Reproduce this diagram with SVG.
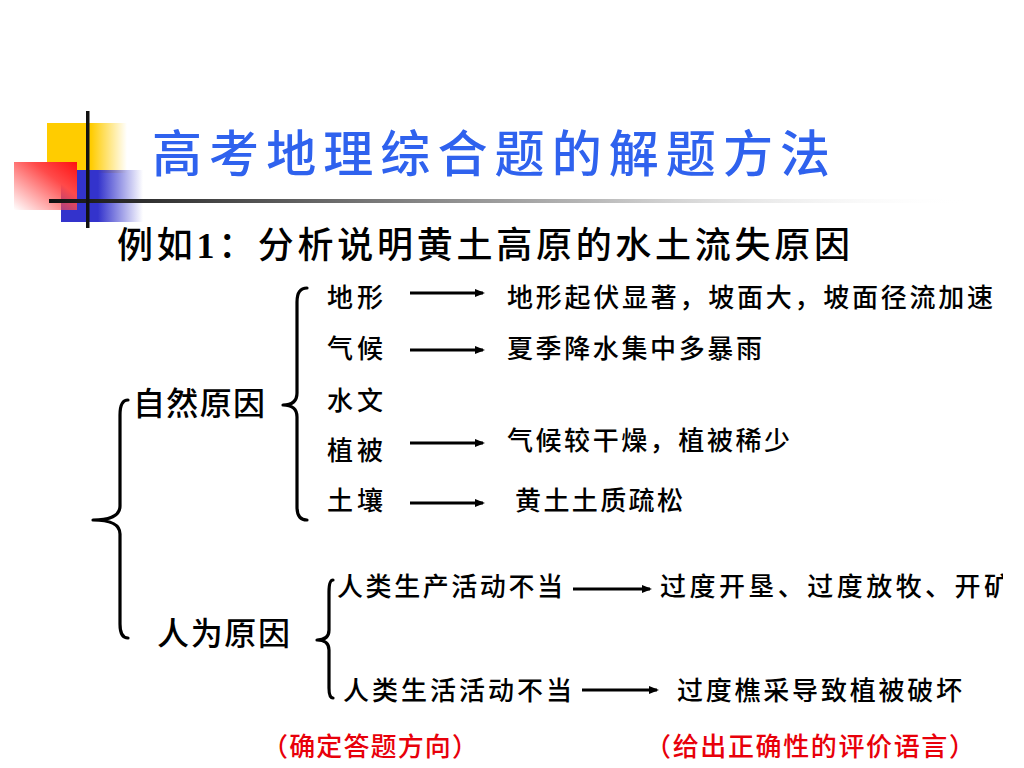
<svg xmlns="http://www.w3.org/2000/svg" width="1024" height="768" viewBox="0 0 1024 768">
<style>
.t{font-family:"Liberation Sans","Noto Sans CJK SC",sans-serif;fill:#000;font-weight:500}
.b{font-size:26px}
.m{font-size:32px}
.r{font-size:26px;fill:#e8000a}
.br{fill:none;stroke:#000;stroke-width:3.2;stroke-linecap:round;stroke-linejoin:round}
.ar{stroke:#000;stroke-width:3;marker-end:url(#ah)}
</style>
<defs>
<marker id="ah" markerWidth="10" markerHeight="8" refX="8" refY="4" orient="auto" markerUnits="userSpaceOnUse">
<path d="M0,0 L10,4 L0,8 Z" fill="#000"/>
</marker>
<linearGradient id="gy" x1="0" y1="0" x2="1" y2="0">
<stop offset="0" stop-color="#ffcc00"/><stop offset="0.55" stop-color="#ffcc00"/><stop offset="1" stop-color="#ffcc00" stop-opacity="0"/>
</linearGradient>
<linearGradient id="gb" x1="0" y1="0" x2="1" y2="0">
<stop offset="0" stop-color="#3333cc"/><stop offset="0.45" stop-color="#3333cc"/><stop offset="1" stop-color="#3333cc" stop-opacity="0"/>
</linearGradient>
<linearGradient id="gr" x1="1" y1="0" x2="0" y2="1">
<stop offset="0" stop-color="#ff1010"/><stop offset="0.35" stop-color="#ff4a4a"/><stop offset="1" stop-color="#ff4a4a" stop-opacity="0"/>
</linearGradient>
<linearGradient id="gl" x1="0" y1="0" x2="1" y2="0">
<stop offset="0" stop-color="#111"/><stop offset="0.35" stop-color="#777"/><stop offset="0.6" stop-color="#bbb"/><stop offset="1" stop-color="#fff" stop-opacity="0"/>
</linearGradient>
<clipPath id="clipR"><rect x="0" y="0" width="1003" height="768"/></clipPath>
</defs>
<rect width="1024" height="768" fill="#fff"/>
<g id="decoration">
<rect x="47" y="123" width="80" height="50" fill="url(#gy)"/>
<rect x="61" y="170" width="82" height="52" fill="url(#gb)"/>
<rect x="14" y="162" width="63" height="48" fill="url(#gr)"/>
<rect x="49" y="199" width="920" height="4" fill="url(#gl)"/>
<rect x="86" y="111" width="3.5" height="117" fill="#111"/>
</g>
<g id="title">
<text x="152" y="172" font-family="Noto Sans CJK SC, sans-serif" font-size="50" font-weight="500" fill="#2f62ee" textLength="678" lengthAdjust="spacing">高考地理综合题的解题方法</text>
</g>
<g id="subtitle">
<text class="t" x="117" y="258" font-size="36" textLength="733" lengthAdjust="spacing">例如<tspan font-family="Liberation Serif, serif" font-weight="bold">1</tspan>：分析说明黄土高原的水土流失原因</text>
</g>
<g id="node-natural"><text class="t m" x="133" y="415" textLength="132" lengthAdjust="spacing">自然原因</text></g>
<g id="node-human"><text class="t m" x="157" y="645" textLength="133" lengthAdjust="spacing">人为原因</text></g>
<g id="node-terrain"><text class="t b" x="327" y="307" textLength="56" lengthAdjust="spacing">地形</text></g>
<g id="node-climate"><text class="t b" x="327" y="358" textLength="56" lengthAdjust="spacing">气候</text></g>
<g id="node-hydro"><text class="t b" x="327" y="410" textLength="56" lengthAdjust="spacing">水文</text></g>
<g id="node-veg"><text class="t b" x="327" y="460" textLength="56" lengthAdjust="spacing">植被</text></g>
<g id="node-soil"><text class="t b" x="327" y="510" textLength="56" lengthAdjust="spacing">土壤</text></g>
<g id="node-terrain-r"><text class="t b" x="507" y="307" textLength="486" lengthAdjust="spacing">地形起伏显著，坡面大，坡面径流加速</text></g>
<g id="node-climate-r"><text class="t b" x="507" y="358" textLength="255" lengthAdjust="spacing">夏季降水集中多暴雨</text></g>
<g id="node-veg-r"><text class="t b" x="507" y="450" textLength="283" lengthAdjust="spacing">气候较干燥，植被稀少</text></g>
<g id="node-soil-r"><text class="t b" x="515" y="510" textLength="168" lengthAdjust="spacing">黄土土质疏松</text></g>
<g id="node-prod"><text class="t b" x="337" y="596" textLength="226" lengthAdjust="spacing">人类生产活动不当</text></g>
<g id="node-prod-r" clip-path="url(#clipR)"><text class="t b" x="660" y="596" textLength="350" lengthAdjust="spacing">过度开垦、过度放牧、开矿</text></g>
<g id="node-life"><text class="t b" x="343" y="700" textLength="229" lengthAdjust="spacing">人类生活活动不当</text></g>
<g id="node-life-r"><text class="t b" x="677" y="700" textLength="285" lengthAdjust="spacing">过度樵采导致植被破坏</text></g>
<g id="note-left"><text class="t r" x="262" y="756" textLength="216" lengthAdjust="spacing">（确定答题方向）</text></g>
<g id="note-right"><text class="t r" x="645" y="756" textLength="330" lengthAdjust="spacing">（给出正确性的评价语言）</text></g>
<g id="connectors">
<path class="br" d="M128,400 Q120,400 120,415 L120,506 Q120,520 93,520 Q120,520 120,534 L120,624 Q120,638 128,638"/>
<path class="br" d="M307,288 Q297,288 297,302 L297,393 Q297,405 283,405 Q297,405 297,417 L297,507 Q297,520 307,520"/>
<path class="br" d="M333,580 Q329,580 329,592 L329,630 Q329,640 317,640 Q329,640 329,650 L329,688 Q329,698 333,698"/>
<line class="ar" x1="410" y1="293" x2="483" y2="293"/>
<line class="ar" x1="410" y1="350" x2="483" y2="350"/>
<line class="ar" x1="410" y1="443" x2="483" y2="443"/>
<line class="ar" x1="410" y1="503" x2="483" y2="503"/>
<line class="ar" x1="573" y1="589" x2="650" y2="589"/>
<line class="ar" x1="582" y1="690" x2="657" y2="690"/>
</g>
</svg>
